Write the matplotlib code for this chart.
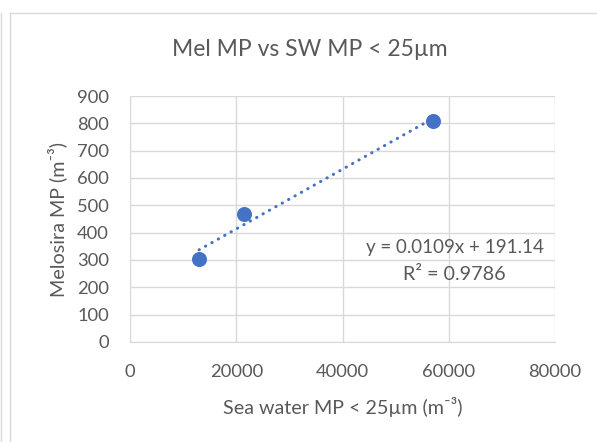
import matplotlib
matplotlib.use("Agg")
import matplotlib.pyplot as plt
import numpy as np

plt.rcParams["font.family"] = ["Lato", "DejaVu Sans"]

# data
sea_water = [13000, 21500, 57000]
melosira = [305, 470, 810]
x_ticks = [0, 20000, 40000, 60000, 80000]
y_ticks = list(range(0, 901, 100))
title = "Mel MP vs SW MP < 25µm"
x_label = "Sea water MP < 25µm (m⁻³)"
y_label = "Melosira MP (m⁻³)"
eq_text = "y = 0.0109x + 191.14"
r2_text = "R² = 0.9786"

blue = "#4472C4"
grey_text = "#595959"
grid_c = "#d9d9d9"

W, H = 597, 442
fig = plt.figure(figsize=(W / 100, H / 100), dpi=100)
ax = fig.add_axes([130 / W, 1 - 342 / H, 425 / W, 246 / H])
fig.canvas.draw()
renderer = fig.canvas.get_renderer()


def fit_text(x, y, s, length, rotation=0):
    # place text centred at pixel (x, y) and scale it to the given pixel length
    t = fig.text(x / W, 1 - y / H, s, ha="center", va="center", rotation=rotation,
                 fontsize=10, color=grey_text)
    bb = t.get_window_extent(renderer)
    cur = bb.height if rotation else bb.width
    t.set_fontsize(10 * length / cur)
    return t


# outer chart frame lines
fig.add_artist(plt.Line2D([9.5 / W, 9.5 / W], [0, 1 - 12.5 / H], color=grid_c, lw=1))
fig.add_artist(plt.Line2D([9.5 / W, 1], [1 - 12.5 / H, 1 - 12.5 / H], color=grid_c, lw=1))
fig.add_artist(plt.Line2D([0.5 / W, 0.5 / W], [0, 1 - 12.5 / H], color=grid_c, lw=1))

# linear trendline
slope, intercept = np.polyfit(sea_water, melosira, 1)
xs = np.array([min(sea_water), max(sea_water)])
ax.plot(xs, slope * xs + intercept, color=blue, lw=2.2, ls=(0, (0.1, 2.3)),
        dash_capstyle="round", zorder=2)
ax.scatter(sea_water, melosira, s=117, color=blue, zorder=3, linewidths=0)

ax.set_xlim(0, 80000)
ax.set_ylim(0, 900)
ax.set_xticks(x_ticks)
ax.set_yticks(y_ticks)
ax.grid(True, color=grid_c, lw=1)
ax.set_axisbelow(True)
for side in ["top", "right"]:
    ax.spines[side].set_visible(False)
for side in ["bottom", "left"]:
    ax.spines[side].set_color(grid_c)

# tick label size: "80000" is about 53 px wide
probe = fig.text(0, 0, "80000", fontsize=10)
tick_fs = 10 * 53 / probe.get_window_extent(renderer).width
probe.remove()
ax.tick_params(length=0, labelsize=tick_fs, colors=grey_text, pad=10)

fig.canvas.draw()
bx = ax.get_xticklabels()[0].get_window_extent(renderer)
by = ax.get_yticklabels()[0].get_window_extent(renderer)
x_pad = 10 + ((bx.y0 + bx.y1) / 2 - (H - 372)) * 72 / 100
y_pad = 10 + (by.x1 - 109) * 72 / 100
ax.tick_params(axis="x", pad=x_pad)
ax.tick_params(axis="y", pad=y_pad)

fit_text(310, 50, title, 274)
fit_text(343, 407, x_label, 239)
fit_text(57, 219.5, y_label, 155, rotation=90)
fit_text(454.5, 247, eq_text, 177)
fit_text(454, 274, r2_text, 102)

fig.savefig("out.png", dpi=100)
